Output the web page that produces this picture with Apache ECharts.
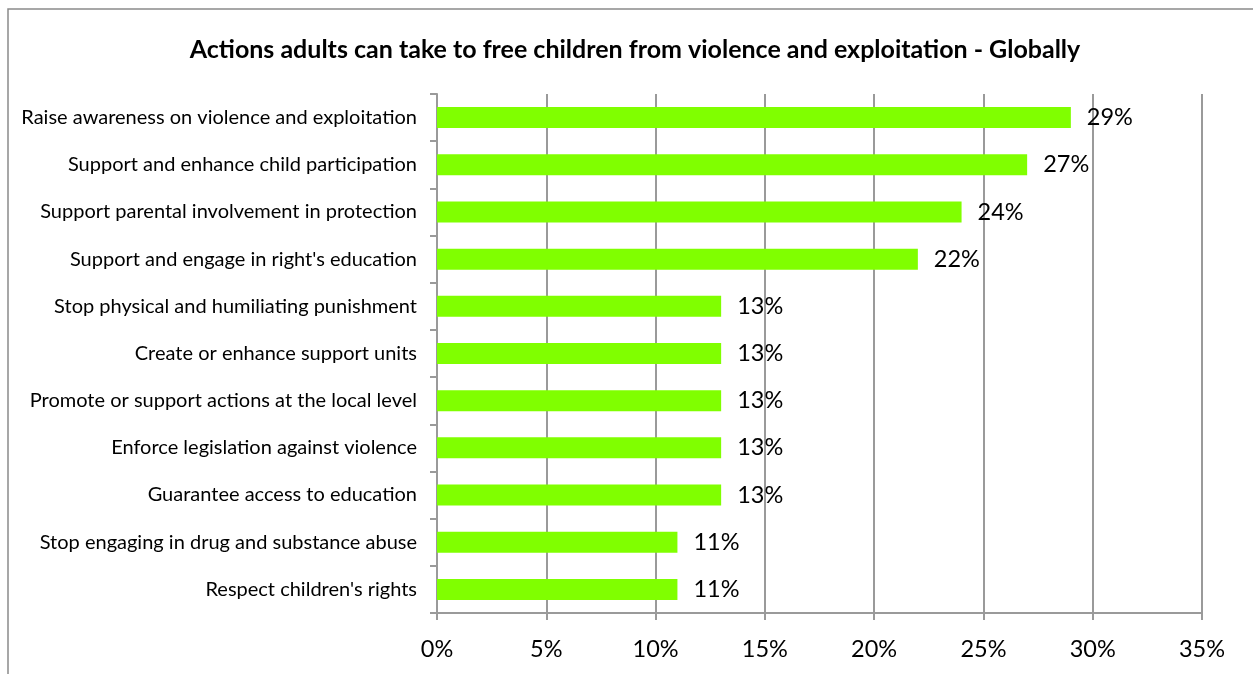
<!DOCTYPE html>
<html>
<head>
<meta charset="utf-8">
<script src="https://cdn.jsdelivr.net/npm/echarts@6/dist/echarts.min.js"></script>
<style>
  html, body { margin: 0; padding: 0; background: #fff; }
  #chart { width: 1253px; height: 674px; }
</style>
</head>
<body>
<div id="chart"></div>
<script>
// Survey responses: share of respondents naming each action
const categories = [
  'Raise awareness on violence and exploitation',
  'Support and enhance child participation',
  'Support parental involvement in protection',
  "Support and engage in right's education",
  'Stop physical and humiliating punishment',
  'Create or enhance support units',
  'Promote or support actions at the local level',
  'Enforce legislation against violence',
  'Guarantee access to education',
  'Stop engaging in drug and substance abuse',
  "Respect children's rights"
];
const values = [29, 27, 24, 22, 13, 13, 13, 13, 13, 11, 11];
const titleText = 'Actions adults can take to free children from violence and exploitation - Globally';

const FONT = 'Lato, "Noto Sans", sans-serif';
const GRID = '#9a9a9a';

const chart = echarts.init(document.getElementById('chart'));
chart.setOption({
  animation: false,
  backgroundColor: '#fff',
  title: {
    text: titleText,
    left: 630,
    textAlign: 'center',
    top: 32,
    textStyle: { fontFamily: FONT, fontWeight: 'bold', fontSize: 25, color: '#000' }
  },
  graphic: [{
    type: 'rect',
    shape: { x: 8, y: 9, width: 1300, height: 700 },
    style: { fill: 'none', stroke: '#8a8a8a', lineWidth: 1.5 },
    silent: true
  }],
  grid: { left: 437, right: 51, top: 94, bottom: 61 },
  xAxis: {
    type: 'value',
    min: 0,
    max: 35,
    interval: 5,
    axisLine: { show: true, lineStyle: { color: GRID, width: 2 } },
    axisTick: { show: true, length: 7, lineStyle: { color: GRID, width: 2 } },
    splitLine: { show: true, lineStyle: { color: GRID, width: 2 } },
    axisLabel: {
      formatter: '{value}%',
      fontFamily: FONT, fontSize: 23.5, color: '#000', margin: 24
    }
  },
  yAxis: {
    type: 'category',
    inverse: true,
    data: categories,
    axisLine: { show: true, lineStyle: { color: GRID, width: 2 } },
    axisTick: { show: true, interval: 0, length: 7, lineStyle: { color: GRID, width: 2 } },
    axisLabel: { fontFamily: FONT, fontSize: 20, color: '#000', margin: 20, interval: 0 }
  },
  series: [{
    type: 'bar',
    data: values,
    barWidth: 21,
    itemStyle: { color: '#80ff00' },
    label: {
      show: true,
      position: 'right',
      distance: 16,
      formatter: '{c}%',
      fontFamily: FONT, fontSize: 23.5, color: '#000'
    }
  }]
});
</script>
</body>
</html>
